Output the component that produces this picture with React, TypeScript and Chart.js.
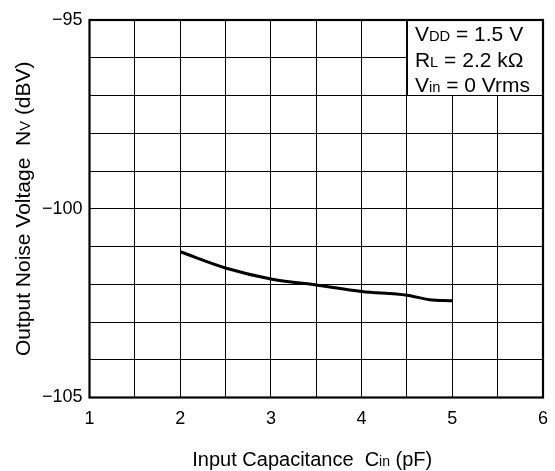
import React, { useEffect, useRef } from "react";
import { Chart, registerables } from "chart.js";

Chart.register(...registerables);

const capacitance = [2, 2.5, 3, 3.5, 4, 4.5, 4.75, 5];
const noise = [-101.14, -101.57, -101.86, -102.02, -102.19, -102.29, -102.41, -102.44];
const yLabeled = [-95, -100, -105];
const xLabeled = [1, 2, 3, 4, 5, 6];

const FONT = "'Liberation Sans', Arial, Helvetica, sans-serif";

type Seg = { t: string; sub?: boolean };

function segWidth(ctx: CanvasRenderingContext2D, segs: Seg[], size: number) {
  let w = 0;
  for (const s of segs) {
    ctx.font = `${s.sub ? size * 0.7 : size}px ${FONT}`;
    w += ctx.measureText(s.t).width;
  }
  return w;
}

function drawSegs(ctx: CanvasRenderingContext2D, segs: Seg[], x: number, y: number, size: number) {
  let cx = x;
  ctx.textBaseline = "alphabetic";
  ctx.textAlign = "left";
  for (const s of segs) {
    ctx.font = `${s.sub ? size * 0.7 : size}px ${FONT}`;
    ctx.fillText(s.t, cx, y);
    cx += ctx.measureText(s.t).width;
  }
}

const legendLines: Seg[][] = [
  [{ t: "V" }, { t: "DD", sub: true }, { t: " = 1.5 V" }],
  [{ t: "R" }, { t: "L", sub: true }, { t: " = 2.2 kΩ" }],
  [{ t: "V" }, { t: "in", sub: true }, { t: " = 0 Vrms" }],
];
const xTitle: Seg[] = [{ t: "Input Capacitance  C" }, { t: "in", sub: true }, { t: " (pF)" }];
const yTitle: Seg[] = [{ t: "Output Noise Voltage  N" }, { t: "V", sub: true }, { t: " (dBV)" }];

const overlay = {
  id: "overlay",
  afterDraw(chart: any) {
    const ctx = chart.ctx as CanvasRenderingContext2D;
    const { left, right, top, bottom } = chart.chartArea;
    const xs = chart.scales.x;
    const ys = chart.scales.y;
    ctx.save();
    // legend box
    const bx = xs.getPixelForValue(4.5);
    const by = ys.getPixelForValue(-97);
    ctx.fillStyle = "#fff";
    ctx.fillRect(bx, top, right - bx, by - top);
    ctx.strokeStyle = "#000";
    ctx.lineWidth = 1;
    ctx.strokeRect(Math.round(bx) + 0.5, top, right - Math.round(bx) - 0.5, Math.round(by) + 0.5 - top);
    ctx.fillStyle = "#000";
    legendLines.forEach((l, i) => drawSegs(ctx, l, bx + 8, top + 21 + i * 25.5, 21));
    // frame
    ctx.lineWidth = 2.2;
    ctx.strokeRect(left, top, right - left, bottom - top);
    // x title
    const xw = segWidth(ctx, xTitle, 20);
    drawSegs(ctx, xTitle, (left + right) / 2 - 4 - xw / 2, 466, 20);
    // y title
    const yw = segWidth(ctx, yTitle, 21);
    ctx.translate(30, (top + bottom) / 2);
    ctx.rotate(-Math.PI / 2);
    drawSegs(ctx, yTitle, -yw / 2, 0, 21);
    ctx.restore();
  },
};

export default function App() {
  const ref = useRef<HTMLCanvasElement>(null);
  useEffect(() => {
    if (!ref.current) return;
    const chart = new Chart(ref.current, {
      type: "line",
      data: {
        datasets: [
          {
            data: capacitance.map((c, i) => ({ x: c, y: noise[i] })),
            borderColor: "#000",
            borderWidth: 3,
            pointRadius: 0,
            cubicInterpolationMode: "monotone",
            fill: false,
          },
        ],
      },
      options: {
        animation: false,
        responsive: false,
        layout: { padding: { top: 20, right: 12, left: 0, bottom: 0 } },
        plugins: { legend: { display: false }, tooltip: { enabled: false } },
        scales: {
          x: {
            type: "linear",
            min: 1,
            max: 6,
            afterFit: (s: any) => {
              s.height = 73.5;
              s.paddingLeft = 0;
              s.paddingRight = 0;
            },
            ticks: {
              stepSize: 0.5,
              autoSkip: false,
              maxRotation: 0,
              padding: 11,
              color: "#000",
              font: { family: FONT, size: 18 },
              callback: (v: any) => (xLabeled.includes(Number(v)) ? String(v) : ""),
            },
            grid: { color: "#000", lineWidth: 1, drawTicks: false },
            border: { display: false },
          },
          y: {
            type: "linear",
            min: -105,
            max: -95,
            afterFit: (s: any) => {
              s.width = 89.5;
              s.paddingTop = 0;
              s.paddingBottom = 0;
            },
            ticks: {
              stepSize: 1,
              autoSkip: false,
              padding: 7,
              color: "#000",
              font: { family: FONT, size: 18 },
              callback: (v: any) => (yLabeled.includes(Number(v)) ? "\u2212" + Math.abs(Number(v)) : ""),
            },
            grid: { color: "#000", lineWidth: 1, drawTicks: false },
            border: { display: false },
          },
        },
      },
      plugins: [overlay],
    });
    return () => chart.destroy();
  }, []);
  return (
    <div style={{ position: "absolute", left: 0, top: 0, width: 555, height: 471, background: "#fff" }}>
      <canvas ref={ref} width={555} height={471} style={{ display: "block" }} />
    </div>
  );
}
